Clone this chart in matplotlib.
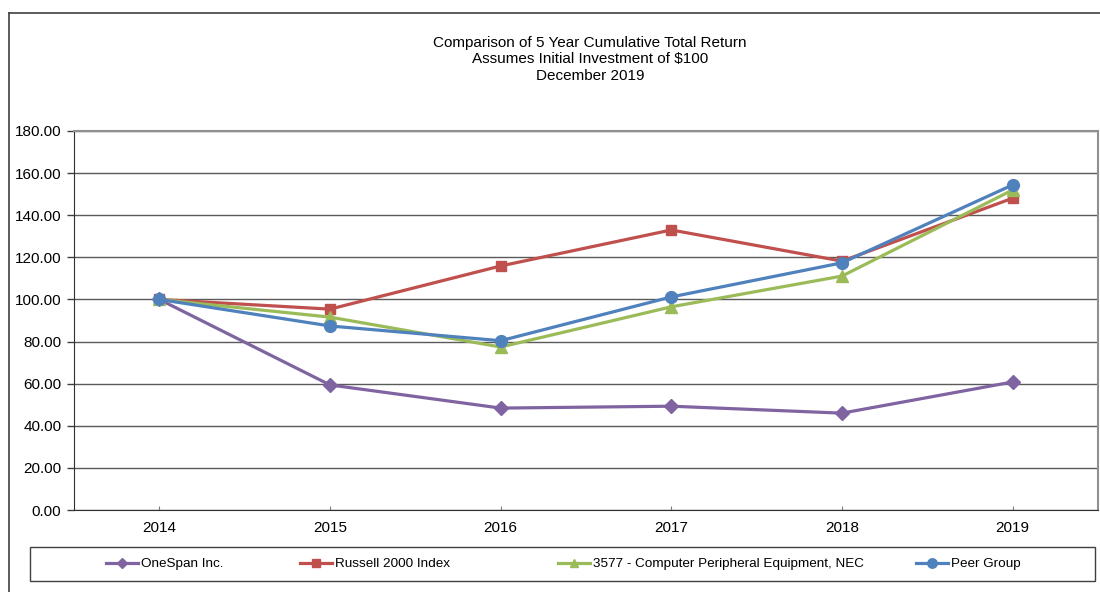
import matplotlib
matplotlib.use("Agg")
import matplotlib.pyplot as plt
from matplotlib.lines import Line2D
from matplotlib.patches import Rectangle

plt.rcParams['font.family'] = ['Liberation Sans', 'DejaVu Sans']

years = ["2014", "2015", "2016", "2017", "2018", "2019"]
onespan = [100.0, 59.4, 48.4, 49.3, 46.0, 60.8]
russell = [100.0, 95.4, 115.9, 133.0, 118.2, 148.1]
peripheral = [100.0, 91.6, 77.4, 96.5, 111.1, 152.0]
peer = [100.0, 87.4, 80.4, 101.2, 117.4, 154.4]

series = [
    ("OneSpan Inc.", onespan, "#8064A2", "D", 7),
    ("Russell 2000 Index", russell, "#C0504D", "s", 7.5),
    ("3577 - Computer Peripheral Equipment, NEC", peripheral, "#9BBB59", "^", 8),
    ("Peer Group", peer, "#4F81BD", "o", 8.5),
]
yticks = [0, 20, 40, 60, 80, 100, 120, 140, 160, 180]

W, H = 1100, 592
fig = plt.figure(figsize=(11, 5.92), dpi=100)
ax = fig.add_axes([74 / W, 1 - 510 / H, (1098 - 74) / W, (510 - 131) / H])

x = list(range(len(years)))
for i, (name, vals, col, mk, ms) in enumerate(series):
    ax.plot(x, vals, color=col, lw=2.3, marker=mk, markersize=ms,
            markeredgecolor=col, markerfacecolor=col, zorder=3 + i)

ax.set_xlim(-0.5, len(years) - 0.5)
ax.set_ylim(0, 180)
ax.set_yticks(yticks)
ax.set_yticklabels([f"{v:.2f}" for v in yticks], fontsize=11)
ax.set_xticks(x)
ax.set_xticklabels(years, fontsize=11)
ax.tick_params(axis='y', direction='out', length=5, width=1, color='#404040', pad=4)
ax.tick_params(axis='x', direction='in', length=3, width=0.8, color='#808080', pad=8)
ax.grid(axis='y', color='#5a5a5a', lw=1)
ax.set_axisbelow(True)
ax.spines['left'].set_color('#303030')
ax.spines['bottom'].set_color('#303030')
ax.spines['top'].set_color('#909090')
ax.spines['right'].set_color('#909090')
ax.spines['top'].set_linewidth(1.5)
ax.spines['right'].set_linewidth(1.5)

# titles
for txt, yy in [("Comparison of 5 Year Cumulative Total Return", 43),
                ("Assumes Initial Investment of $100", 59),
                ("December 2019", 76)]:
    fig.text(590 / W, 1 - yy / H, txt, ha='center', va='center', fontsize=11)

# outer frame
fig.add_artist(Line2D([9 / W, 1], [1 - 13 / H, 1 - 13 / H], color='#404040', lw=1.2,
                      transform=fig.transFigure))
fig.add_artist(Line2D([9 / W, 9 / W], [0, 1 - 13 / H], color='#404040', lw=1.2,
                      transform=fig.transFigure))

# legend box
fig.add_artist(Rectangle((30 / W, 1 - 581 / H), (1095 - 30) / W, 34 / H,
                         transform=fig.transFigure, fill=False, edgecolor='#404040', lw=1))
leg_x = [106, 300, 558, 916]
for (name, vals, col, mk, ms), lx in zip(series, leg_x):
    h = Line2D([], [], color=col, lw=2.3, marker=mk, markersize=ms * 0.8,
               markeredgecolor=col, markerfacecolor=col)
    fig.legend([h], [name], loc='center left', bbox_to_anchor=(lx / W, 1 - 564 / H),
               frameon=False, fontsize=9.7, handlelength=2.4, handletextpad=0.2,
               borderpad=0, borderaxespad=0)

fig.savefig("out.png", dpi=100)
